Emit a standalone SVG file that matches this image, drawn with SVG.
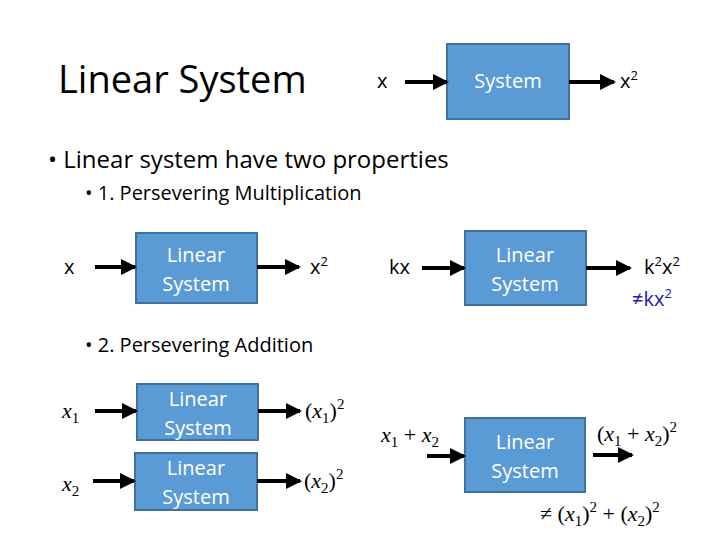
<svg xmlns="http://www.w3.org/2000/svg" width="720" height="540" viewBox="0 0 720 540">
<defs>
<marker id="ah" markerWidth="4" markerHeight="4" refX="3.5" refY="2" orient="auto" markerUnits="strokeWidth"><path d="M0,0 L4,2 L0,4 z" fill="#000"/></marker>
<style>
.box{fill:#5b9bd5;stroke:#41719c;stroke-width:2}
.bt{font-family:"Open Sans","Liberation Sans",sans-serif;font-size:20px;fill:#fff;text-anchor:middle}
.t{font-family:"Open Sans","Liberation Sans",sans-serif;fill:#000}
.m{font-family:"Liberation Serif",serif;font-style:italic;font-size:22px;fill:#000}
.mr{font-family:"Liberation Serif",serif;font-size:22px;fill:#000}
.c line{stroke:#000;stroke-width:4;marker-end:url(#ah)}
</style>
</defs>
<rect width="720" height="540" fill="#fff"/>
<text class="t" x="58" y="93" font-size="38">Linear System</text>
<text class="t" x="48" y="168" font-size="24">• Linear system have two properties</text>
<text class="t" x="85" y="200" font-size="20">• 1. Persevering Multiplication</text>
<text class="t" x="85" y="352" font-size="20">• 2. Persevering Addition</text>
<g id="n1"><rect class="box" x="447" y="44" width="122" height="75"/><text class="bt" x="508" y="88">System</text></g>
<g id="n2"><rect class="box" x="136" y="233" width="121" height="70"/><text class="bt" x="196" y="262">Linear</text><text class="bt" x="196" y="291">System</text></g>
<g id="n3"><rect class="box" x="465" y="231" width="121" height="74"/><text class="bt" x="525" y="262">Linear</text><text class="bt" x="525" y="291">System</text></g>
<g id="n4"><rect class="box" x="137" y="384" width="121" height="56"/><text class="bt" x="198" y="406">Linear</text><text class="bt" x="198" y="435">System</text></g>
<g id="n5"><rect class="box" x="135" y="453" width="122" height="57"/><text class="bt" x="196" y="475">Linear</text><text class="bt" x="196" y="504">System</text></g>
<g id="n6"><rect class="box" x="465" y="418" width="120" height="74"/><text class="bt" x="525" y="449">Linear</text><text class="bt" x="525" y="478">System</text></g>
<g class="c">
<line x1="405" y1="82" x2="447" y2="82"/><line x1="569" y1="82" x2="614" y2="82"/>
<line x1="95" y1="267" x2="135" y2="267"/><line x1="257" y1="267" x2="299" y2="267"/>
<line x1="422" y1="268" x2="464" y2="268"/><line x1="586" y1="268" x2="630" y2="268"/>
<line x1="95" y1="411" x2="136" y2="411"/><line x1="258" y1="411" x2="300" y2="411"/>
<line x1="93" y1="481" x2="134" y2="481"/><line x1="257" y1="481" x2="300" y2="481"/>
<line x1="427" y1="456" x2="464" y2="456"/><line x1="593" y1="455" x2="632" y2="455"/>
</g>
<g class="t" font-size="20">
<text x="377" y="88">x</text>
<text x="620" y="88">x<tspan dy="-8" font-size="13">2</tspan></text>
<text x="64" y="274">x</text>
<text x="310" y="274">x<tspan dy="-8" font-size="13">2</tspan></text>
<text x="389" y="274">kx</text>
<text x="644" y="274">k<tspan dy="-8" font-size="13">2</tspan><tspan dy="8">x</tspan><tspan dy="-8" font-size="13">2</tspan></text>
<text x="632" y="306" fill="#2020b0">≠kx<tspan dy="-8" font-size="13">2</tspan></text>
</g>
<text class="m" x="62" y="418">x<tspan dy="5" font-size="15" font-style="normal">1</tspan></text>
<text class="m" x="62" y="491">x<tspan dy="5" font-size="15" font-style="normal">2</tspan></text>
<text class="mr" x="305" y="418">(<tspan font-style="italic">x</tspan><tspan dy="5" font-size="15">1</tspan><tspan dy="-5">)</tspan><tspan dy="-9" font-size="15">2</tspan></text>
<text class="mr" x="304" y="488">(<tspan font-style="italic">x</tspan><tspan dy="5" font-size="15">2</tspan><tspan dy="-5">)</tspan><tspan dy="-9" font-size="15">2</tspan></text>
<text class="mr" x="381" y="442"><tspan font-style="italic">x</tspan><tspan dy="5" font-size="15">1</tspan><tspan dy="-5"> + </tspan><tspan font-style="italic">x</tspan><tspan dy="5" font-size="15">2</tspan></text>
<text class="mr" x="597" y="441">(<tspan font-style="italic">x</tspan><tspan dy="5" font-size="15">1</tspan><tspan dy="-5"> + </tspan><tspan font-style="italic">x</tspan><tspan dy="5" font-size="15">2</tspan><tspan dy="-5">)</tspan><tspan dy="-9" font-size="15">2</tspan></text>
<text class="mr" x="540" y="521" fill="#2020b0">≠ (<tspan font-style="italic">x</tspan><tspan dy="5" font-size="15">1</tspan><tspan dy="-5">)</tspan><tspan dy="-9" font-size="15">2</tspan><tspan dy="9"> + (</tspan><tspan font-style="italic">x</tspan><tspan dy="5" font-size="15">2</tspan><tspan dy="-5">)</tspan><tspan dy="-9" font-size="15">2</tspan></text>
</svg>
